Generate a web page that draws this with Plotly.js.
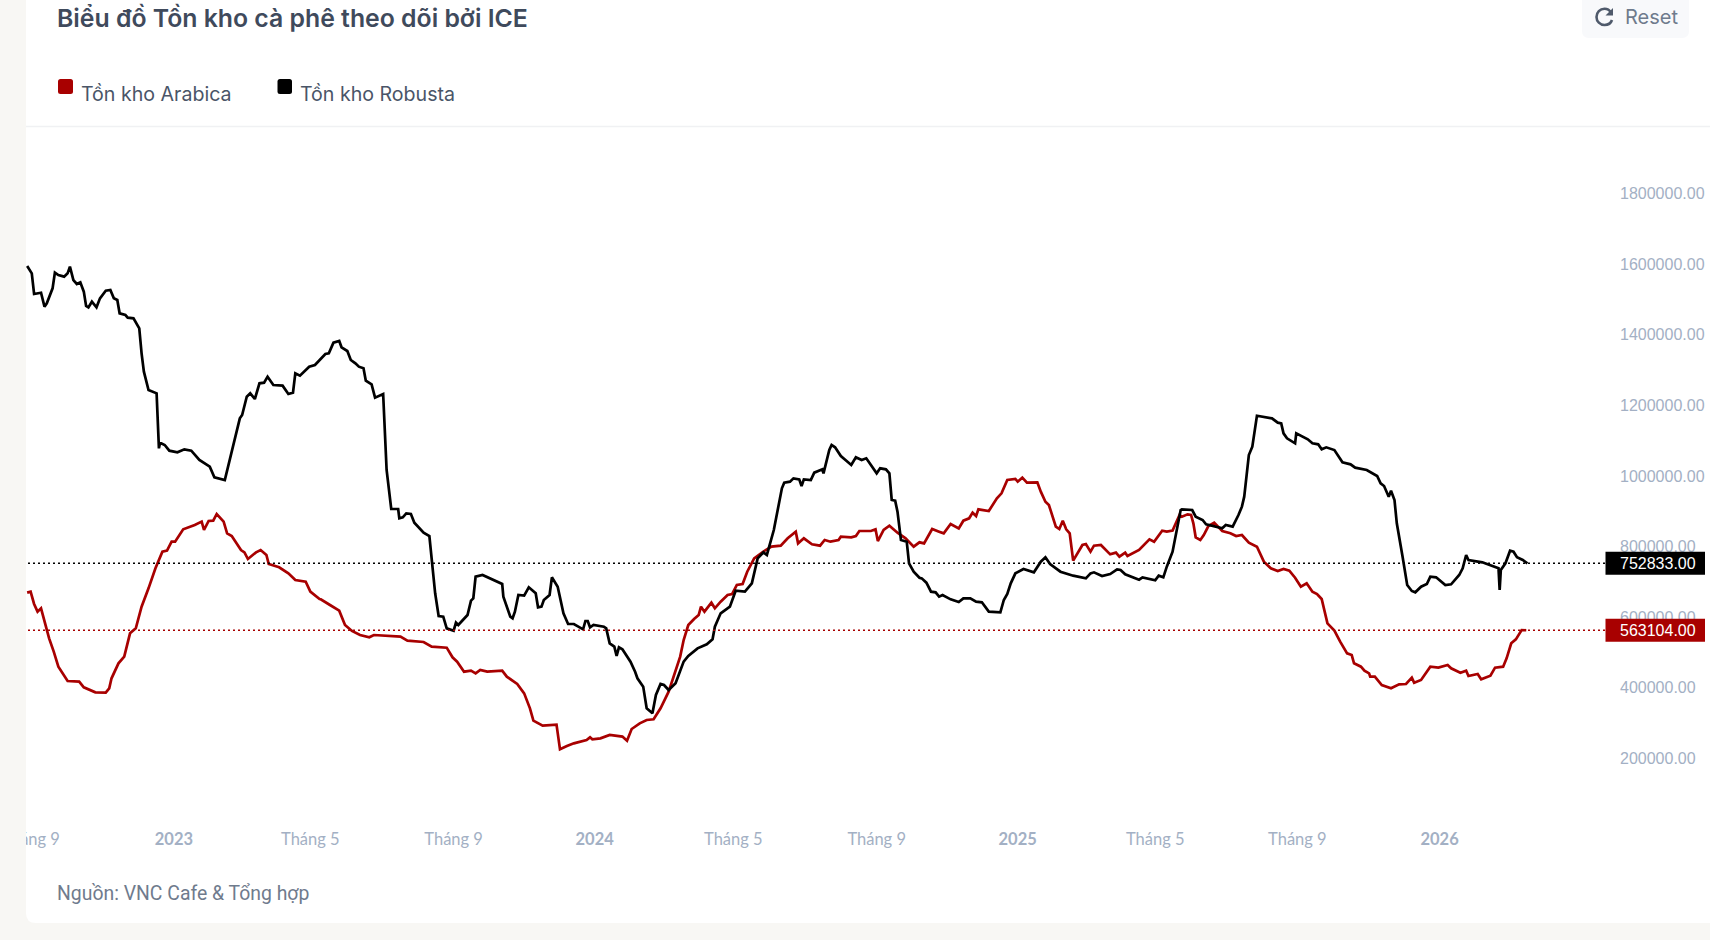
<!DOCTYPE html>
<html lang="vi">
<head>
<meta charset="utf-8">
<script src="https://cdn.plot.ly/plotly-3.0.1.min.js"></script>
<style>html,body{margin:0;padding:0;background:#f8f7f4;overflow:hidden}#c{width:1710px;height:940px}</style>
</head>
<body>
<div id="c"></div>
<script>
const chartTitle = "Biểu đồ Tồn kho cà phê theo dõi bởi ICE";
const sourceText = "Nguồn: VNC Cafe & Tổng hợp";
const arabicaName = "Tồn kho Arabica";
const robustaName = "Tồn kho Robusta";
const lastArabica = 563104;
const lastRobusta = 752833;

// days counted from 2023-01-01
const robustaDays = [-127,-123,-121,-115,-112,-110,-105,-103,-100,-95,-92,-90,-87,-84,-81,-78,-76,-74,-71,-67,-64,-59,-55,-52,-49,-47,-42,-40,-35,-32,-30,-28,-26,-22,-15,-13,-12,-8,-4,3,9,15,22,31,35,44,49,57,59,63,66,70,74,78,81,86,94,99,103,105,109,117,122,
127,131,134,138,143,145,150,153,157,160,164,166,171,174,181,183,184,188,194,195,198,201,205,208,213,216,221,223,226,229,233,236,242,244,246,254,257,259,261,267,284,285,288,291,293,295,298,303,307,313,315,318,320,325,327,332,337,341,346,354,356,358,360,363,
372,374,377,381,383,385,388,395,399,401,406,409,414,417,421,424,428,434,441,445,453,461,466,468,473,481,486,494,500,505,510,513,519,526,528,533,536,541,543,545,551,554,561,562,567,569,572,577,581,586,590,595,599,604,608,611,616,619,621,624,626,
629,634,636,640,645,647,651,655,659,662,665,672,679,683,689,694,699,705,715,718,721,724,728,735,744,750,754,758,767,778,789,793,796,803,810,816,819,823,835,838,849,852,856,859,864,867,871,
872,881,884,890,893,907,910,916,921,924,926,930,933,937,950,955,958,960,963,970,971,981,985,990,993,997,1004,1011,1018,1022,1032,1041,1044,1047,1051,1053,1056,1058,1063,1067,1071,1074,1079,1084,1087,1092,1100,1105,1112,1115,1118,1120,1132,1143,1146,1147,1148,1152,1156,1159,1162,1167,1171];
const robustaValues = [1595000,1574300,1515800,1519500,1479900,1489300,1531800,1576200,1569600,1564900,1574300,1593200,1555400,1544100,1548800,1522400,1481800,1478000,1494000,1478000,1503500,1525200,1527100,1503500,1498800,1461000,1456300,1448700,1446800,1427900,1418500,1347700,1295700,1243800,1234400,1078600,1094600,1088000,1071900,1067200,1075700,1071900,1045500,1026600,996400,988800,1054900,1163500,1173000,1224900,1234400,1218300,1262700,1264600,1281600,1258000,1256100,1232500,1236300,1291000,1284400,1309900,1314600,
1333500,1345800,1347700,1377900,1382600,1364700,1354300,1328800,1319300,1309900,1305200,1270200,1259800,1222100,1232500,1102200,1017200,906700,906700,880300,883100,894400,892500,868000,850000,839600,830200,762200,667800,603600,601700,568600,562000,584700,578100,606400,647000,653600,715000,719700,694200,658400,630000,601700,597000,615800,663000,661200,684800,667800,628100,630000,648900,663000,713100,686600,611100,580900,580900,565800,589400,589400,571500,578100,
573300,568600,526100,516700,490200,514800,509100,474200,445800,427000,403400,342000,327800,379800,410900,408100,393900,412800,474200,490200,511900,523300,537400,573300,611100,630000,675300,672500,696100,766900,783900,776400,847200,965200,981300,984100,993500,990700,971800,990700,988800,1009600,1019000,1007700,1073800,1088000,1081400,1056800,1045500,1031300,1053000,1045500,1050200,1026600,1007700,1021900,1019000,1007700,932200,930300,899100,
818900,814100,752800,729100,712100,710200,698000,672500,670600,658300,663000,650800,643200,653600,653600,644200,642300,615800,613900,648900,665900,696100,724400,736700,727300,757500,769800,750900,729100,717800,710200,724400,727300,716900,722500,735800,733900,721600,706500,713100,704600,717800,713100,743300,785800,833000,903800,
905700,903800,885000,875500,863300,851900,861300,856600,889700,913300,941600,1059600,1083300,1171000,1163500,1151200,1149300,1121000,1106900,1092700,1121000,1104000,1092700,1089900,1075700,1081400,1073800,1038900,1033200,1023800,1017200,1000200,979400,971800,941600,958600,932200,866100,771600,691400,674400,670600,686600,694200,715000,713100,691400,693300,719700,738600,776400,762200,755600,741400,738600,677200,733900,752800,788600,785800,769800,762200,lastRobusta];

const arabicaDays = [-127,-124,-121,-118,-115,-113,-108,-104,-100,-92,-82,-78,-68,-59,-56,-54,-48,-43,-38,-33,-28,-22,-16,-10,-6,-2,1,8,15,18,24,26,30,34,37,43,46,50,58,61,64,71,75,80,82,91,99,105,114,118,126,
127,135,143,148,154,161,169,173,190,196,202,216,223,236,241,245,251,257,261,265,271,284,288,297,303,308,311,319,331,334,340,346,357,360,362,369,377,388,392,
396,403,409,415,421,428,434,438,441,445,450,454,456,459,465,468,473,479,483,487,492,496,502,507,512,517,525,531,538,540,545,552,559,563,568,575,577,586,590,593,603,607,609,614,619,
626,633,640,645,649,656,662,666,672,679,683,688,691,694,696,705,712,716,721,728,730,734,738,747,750,754,757,763,766,769,772,775,778,786,789,793,796,802,810,815,818,823,825,835,844,848,855,859,864,870,
872,877,880,882,884,888,891,895,900,907,914,919,924,930,937,943,949,955,960,965,970,975,980,985,989,993,998,1004,1009,1015,1019,1021,1027,1030,1034,1035,1039,1045,1053,1060,1066,1071,1073,1079,1087,1094,1102,1105,1113,1118,1120,1128,1131,1139,1143,1150,1153,1157,1161,1166,1170];
const arabicaValues = [669700,672500,637600,615800,625300,601700,540300,502600,460000,419400,417500,401500,387300,386400,398700,427000,469500,488400,554500,568600,630000,681900,738600,785800,788600,814100,814100,849100,856600,861300,870800,847200,872700,873600,892500,870800,837800,830200,790500,783900,765000,783900,790500,776400,750900,741400,724400,705500,700800,672500,651700,
650800,634700,618700,578100,561100,549700,543100,549700,546900,545000,533700,529900,516700,513800,486500,474200,445800,448700,441100,450600,445800,448700,431700,410900,384500,342000,307100,292900,295700,225800,235300,242800,252300,259800,254200,257000,266400,262000,250000,
283400,299500,308900,310800,342000,389200,445800,488400,535600,578100,595000,606400,630000,615800,641300,625300,644100,663000,665900,691400,694200,729100,766900,779200,790500,800000,802800,823600,842500,809400,823600,806600,802800,818900,814100,818900,828300,826400,830200,844300,844300,849100,816000,847200,859500,
839600,823600,800000,812300,809400,850000,842500,837800,864200,851900,873600,880300,896300,886900,905700,901000,936900,951100,988800,991700,984100,995400,981300,982200,955800,927400,918000,856600,850000,873600,849100,837800,760300,804700,807500,785800,802800,804700,778200,783000,771600,783000,773500,790500,820700,814100,845300,842500,845300,889700,
885000,891600,889700,866100,826400,818900,833000,858500,868000,844300,837800,830200,833000,811300,799900,757500,738600,731000,736700,732000,712100,686600,696100,672500,665900,651700,582800,562000,530800,497800,493000,469500,460000,448700,441100,431700,431700,408100,398700,410000,410900,428800,414700,422300,460000,457200,464800,455300,443000,448700,433600,439300,424200,434500,457200,460000,483600,526100,537400,563800,lastArabica];

const yTicks = [200000,400000,600000,800000,1000000,1200000,1400000,1600000,1800000];
// the reference's time scale places each tick on the nearest trading bar
const xTickDates = ["2022-08-30","2023-01-01","2023-04-29","2023-08-31","2023-12-31","2024-04-29","2024-08-31","2024-12-31","2025-04-29","2025-08-30","2025-12-31"];
const xTickLabels = ["Tháng 9","<b>2023</b>","Tháng 5","Tháng 9","<b>2024</b>","Tháng 5","Tháng 9","<b>2025</b>","Tháng 5","Tháng 9","<b>2026</b>"];

const toDate = d => new Date(Date.UTC(2023,0,1) + d*864e5).toISOString().slice(0,10);
const W=1710,H=940,L=26,R=1606,T=127,B=820;
const fx = p => (p-L)/(R-L);
const fy = p => (B-p)/(B-T);
const P = (x,y) => `${fx(x)},${fy(y)}`;
// rounded rectangle in picture pixels; radii: top-left, top-right, bottom-right, bottom-left
const rrect = (x0,y0,x1,y1,tl,tr,br,bl) =>
  `M${P(x0+tl,y0)} L${P(x1-tr,y0)} Q${P(x1,y0)} ${P(x1,y0+tr)} L${P(x1,y1-br)} Q${P(x1,y1)} ${P(x1-br,y1)} L${P(x0+bl,y1)} Q${P(x0,y1)} ${P(x0,y1-bl)} L${P(x0,y0+tl)} Q${P(x0,y0)} ${P(x0+tl,y0)} Z`;
const pathShape = (d,fill,layer='below') => ({type:'path',layer,xref:'paper',yref:'paper',path:d,fillcolor:fill,line:{width:0}});

const RED="#a80000", BLACK="#000000", BG="#f8f7f4", ICON="#4f5a6b";
const text=(x,y,t,o={})=>({xref:'paper',yref:'paper',x:fx(x),y:fy(y),text:t,showarrow:false,xanchor:o.xa||'left',yanchor:'middle',
  font:{family:o.f||'Inter, sans-serif',size:o.s||18,color:o.c||'#4a5568',weight:o.w||400}});

const priceRect=(v,c)=>({type:'rect',layer:'above',xref:'paper',yref:'y',ysizemode:'pixel',yanchor:v,y0:-11.5,y1:11.5,
  x0:fx(1605.5),x1:fx(1705),fillcolor:c,line:{width:0}});
const priceText=v=>({xref:'paper',yref:'y',x:fx(1658),y:v,text:v.toFixed(2),showarrow:false,xanchor:'center',yanchor:'middle',
  font:{family:'"Liberation Sans", Arial, sans-serif',size:16,color:'#ffffff',weight:500}});

const shapes=[
 pathShape(rrect(26,0,1710,923,0,0,0,10),'#ffffff'),
 {type:'line',layer:'below',xref:'paper',yref:'paper',x0:fx(26),x1:fx(1710),y0:fy(126.5),y1:fy(126.5),line:{color:'#f0f1f3',width:1.5}},
 pathShape(rrect(1582,-6,1689,38,0,0,7,7),'#f8f9fb'),
 pathShape(rrect(58,79,73,94,2.5,2.5,2.5,2.5),RED),
 pathShape(rrect(277.5,79,292,94,2.5,2.5,2.5,2.5),BLACK),
 // Reset icon
 {type:'path',layer:'below',xref:'paper',yref:'paper',
  path:`M${P(1611,12.5)} C${P(1609.5,10)} ${P(1607,8.8)} ${P(1604.5,8.8)} C${P(1600,8.8)} ${P(1596.5,12.5)} ${P(1596.5,17)} C${P(1596.5,21.5)} ${P(1600,25)} ${P(1604.5,25)} C${P(1608,25)} ${P(1611,23)} ${P(1612,20)}`,
  line:{color:ICON,width:2.6}},
 pathShape(`M${P(1613,8)} L${P(1613,15.5)} L${P(1605.5,15.5)} Z`,ICON),
 {type:'line',layer:'above',xref:'paper',yref:'y',x0:fx(28),x1:1,y0:lastRobusta,y1:lastRobusta,line:{color:BLACK,width:1.5,dash:'2px,3px'}},
 {type:'line',layer:'above',xref:'paper',yref:'y',x0:fx(28),x1:1,y0:lastArabica,y1:lastArabica,line:{color:RED,width:1.5,dash:'2px,3px'}},
 priceRect(lastRobusta,BLACK),
 priceRect(lastArabica,RED),
 {type:'rect',layer:'above',xref:'paper',yref:'paper',x0:fx(0),x1:fx(26),y0:fy(760),y1:fy(915),fillcolor:BG,line:{width:0}}
];

const annotations=[
 text(55,17.5,chartTitle,{s:24.8,c:'#3f4a5c',w:600}),
 text(78.5,94,arabicaName,{s:19.6}),
 text(298,94,robustaName,{s:19.6}),
 text(55,893,sourceText,{s:19.4,c:'#6f7b8d',f:'Roboto, sans-serif'}),
 text(1623,17,'Reset',{s:20,c:'#6f7b8d'}),
 priceText(lastRobusta),
 priceText(lastArabica)
];

const data=[
 {type:'scatter',mode:'lines',name:arabicaName,x:arabicaDays.map(toDate),y:arabicaValues,line:{color:RED,width:2.7},hoverinfo:'x+y'},
 {type:'scatter',mode:'lines',name:robustaName,x:robustaDays.map(toDate),y:robustaValues,line:{color:BLACK,width:2.7},hoverinfo:'x+y'}
];

const layout={
 width:W,height:H,showlegend:false,
 paper_bgcolor:BG,plot_bgcolor:'rgba(0,0,0,0)',
 margin:{l:L,r:W-R,t:T,b:H-B,pad:0},
 xaxis:{type:'date',range:[toDate(-127.6),toDate(1239.5)],tickmode:'array',tickvals:xTickDates,ticktext:xTickLabels,
   showgrid:false,zeroline:false,showline:false,ticks:'',ticklabelstandoff:7,
   tickangle:0,tickfont:{family:'Lato, sans-serif',size:16.5,color:'#a3b0c4'}},
 yaxis:{side:'right',range:[25600,1988900],tickmode:'array',tickvals:yTicks,tickformat:'.2f',
   showgrid:false,zeroline:false,showline:false,ticks:'',ticklabelstandoff:13,
   tickfont:{family:'"Liberation Sans", Arial, sans-serif',size:16,color:'#a3b0c4'}},
 shapes,annotations
};
Plotly.newPlot('c',data,layout,{displayModeBar:false,staticPlot:true});
</script>
</body>
</html>
